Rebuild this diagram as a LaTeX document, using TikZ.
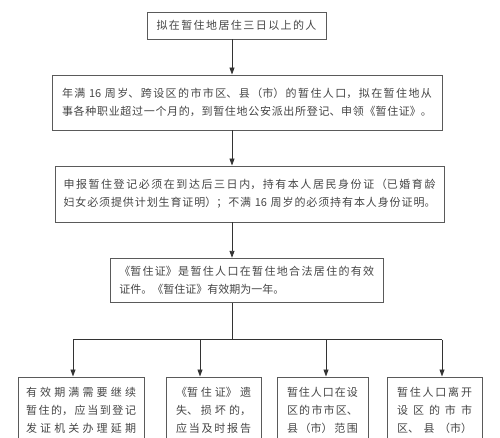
\documentclass[tikz,border=0pt]{standalone}
\usepackage{fontspec}
\newfontfamily\zh{Noto Sans CJK SC}
\usepackage{tikz}
\usetikzlibrary{arrows.meta}
\XeTeXlinebreaklocale "zh"
\XeTeXlinebreakskip=0pt plus 1fil
\definecolor{inkline}{HTML}{333333}
\definecolor{inkbox}{HTML}{5A5A5A}
\definecolor{inktext}{HTML}{454545}
\tikzset{
  box/.style={draw=inkbox, line width=0.9pt, inner xsep=0pt, text=inktext,
    font=\zh\fontsize{11}{18}\selectfont,
    execute at begin node={\parindent=0pt\parfillskip=0pt}},
  arr/.style={-{Triangle[width=5pt,length=7pt]}, draw=inkline, line width=0.9pt},
  bar/.style={draw=inkline, line width=0.9pt}
}

\begin{document}
\begin{tikzpicture}[x=1pt,y=-1pt]
                \useasboundingbox (0,0) rectangle (500,438);

                %main column of boxes, define nodes first
                \node (A) at (236.5,25.5) [box, minimum width=179pt, minimum height=27pt, text width=160pt]{拟在暂住地居住三日以上的人};
                \node (B) at (247,102.5) [box, minimum width=390pt, minimum height=55pt, text width=370pt]{年满 16 周岁、跨设区的市市区、县（市）的暂住人口，拟在暂住地从\par 事各种职业超过一个月的，到暂住地公安派出所登记、申领《暂住证》。};
                \node (C) at (249.5,194) [box, minimum width=389pt, minimum height=56pt, text width=372pt]{申报暂住登记必须在到达后三日内，持有本人居民身份证（已婚育龄\par 妇女必须提供计划生育证明）；不满 16 周岁的必须持有本人身份证明。};
                \node (D) at (246.75,280.5) [box, minimum width=272.5pt, minimum height=44.5pt, text width=255pt]{《暂住证》是暂住人口在暂住地合法居住的有效\par 证件。《暂住证》有效期为一年。\hskip 0pt plus 1filll\null};

                %bottom row, the boxes run on past the lower edge
                \node (E) at (81,376.5) [box, anchor=north, minimum width=126pt, text width=110pt, inner ysep=10pt, text depth=70pt]{有效期满需要继续\par 暂住的，应当到登记\par 发证机关办理延期};
                \node (F) at (213.5,376.5) [box, anchor=north, minimum width=95pt, text width=75pt, inner ysep=10pt, text depth=70pt]{《暂住证》遗\par 失、损坏的，\par 应当及时报告};
                \node (G) at (322.5,376.5) [box, anchor=north, minimum width=91pt, text width=71pt, inner ysep=10pt, text depth=70pt]{暂住人口在设\par 区的市市区、\par 县（市）范围};
                \node (H) at (434.5,376.5) [box, anchor=north, minimum width=95pt, text width=75pt, inner ysep=10pt, text depth=70pt]{暂住人口离开\par 设区的市市\par 区、县（市）};

                %arrows down the main column
                \coordinate (spine) at (232,0);
                \draw[arr] (A.south -| spine) -- (B.north -| spine);
                \draw[arr] (B.south -| spine) -- (C.north -| spine);
                \draw[arr] (C.south -| spine) -- (D.north -| spine);

                %fork into the four branches
                \coordinate (fork) at (232,339.5);
                \draw[bar] (D.south -| spine) -- (fork);
                \foreach \n/\x in {E/73,F/200,G/326,H/442}{
                  \coordinate (d\n) at (\x,339.5);
                  \draw[arr] (d\n) -- (d\n |- \n.north);
                }
                \draw[bar] (dE) -- (dH);
\end{tikzpicture}
\end{document}
